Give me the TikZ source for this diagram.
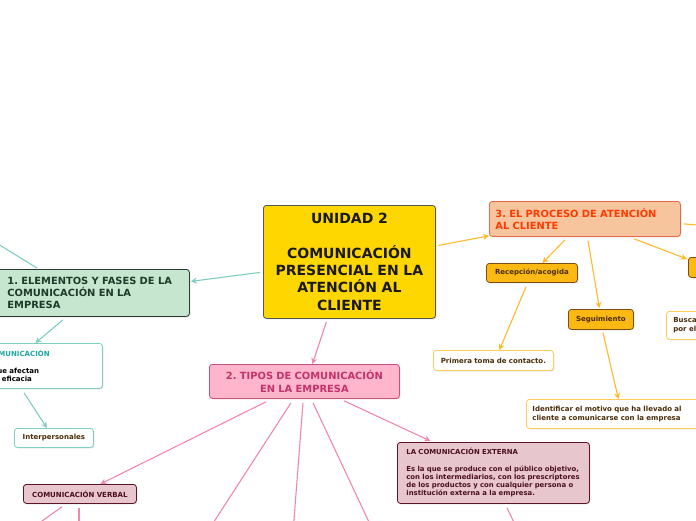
\documentclass[tikz,border=0pt]{standalone}
\usepackage{fontspec}
\setmainfont{DejaVu Sans}
\usetikzlibrary{arrows.meta,calc,shadows}
\definecolor{tealline}{HTML}{7ECEC4}
\definecolor{tealtxt}{HTML}{1FA89E}
\definecolor{centerfill}{HTML}{FFD700}
\definecolor{centerdraw}{HTML}{555555}
\definecolor{greenfill}{HTML}{C7E6CF}
\definecolor{greendraw}{HTML}{2A3A30}
\definecolor{greentxt}{HTML}{1E3B2A}
\definecolor{pinkline}{HTML}{F088A8}
\definecolor{pinkfill}{HTML}{FFB5CB}
\definecolor{pinkdraw}{HTML}{C8507A}
\definecolor{pinktxt}{HTML}{C2336B}
\definecolor{maroonfill}{HTML}{E8C6CE}
\definecolor{maroondraw}{HTML}{5A1628}
\definecolor{maroontxt}{HTML}{4A0F20}
\definecolor{orangeline}{HTML}{FFB929}
\definecolor{peachfill}{HTML}{F6C59E}
\definecolor{peachdraw}{HTML}{E8684A}
\definecolor{peachtxt}{HTML}{FF3A00}
\definecolor{amberfill}{HTML}{FDB913}
\definecolor{amberdraw}{HTML}{7A4E12}
\definecolor{ambertxt}{HTML}{4A2C08}
\definecolor{lightamber}{HTML}{FFCD55}
\frenchspacing
\begin{document}
\begin{tikzpicture}[x=1pt,y=-1pt,
  every node/.style={font=\bfseries},
  box/.style={draw, rounded corners=3pt, line width=0.8pt, anchor=north west, inner ysep=0pt,
    drop shadow={shadow xshift=1pt, shadow yshift=-1pt, opacity=0.25}},
  conn/.style={line width=1.1pt},
  arr/.style={conn, -{Stealth[length=6pt,width=6pt]}},
  smalltxt/.style={font=\bfseries\fontsize{7}{8.5}\selectfont},
  ambox/.style={box, fill=amberfill, draw=amberdraw, text=ambertxt, smalltxt, align=center},
  whamber/.style={box, fill=white, draw=lightamber, text=ambertxt, smalltxt},
  mabox/.style={box, fill=maroonfill, draw=maroondraw, text=maroontxt, smalltxt},
  whteal/.style={box, fill=white, draw=tealline, smalltxt},
  bigtxt/.style={font=\bfseries\fontsize{9.9}{12.2}\selectfont}
]
\useasboundingbox (0,0) rectangle (696,520);
\fill[white] (0,0) rectangle (696,520);

% central node
\node[box, fill=centerfill, draw=centerdraw, text=black!90, align=center,
  minimum width=172, minimum height=113, text width=166, inner xsep=3,
  font=\bfseries\fontsize{14}{17.3}\selectfont] (c) at (263,205)
  {UNIDAD 2\\[17.3pt]COMUNICACIÓN\\PRESENCIAL EN LA\\ATENCIÓN AL\\CLIENTE};

% branch 1 (teal)
\node[box, fill=greenfill, draw=greendraw, text=greentxt, align=left,
  minimum width=195, minimum height=47, text width=169, inner xsep=13, bigtxt] (n1) at (-6,269)
  {1. ELEMENTOS Y FASES DE LA\\COMUNICACIÓN EN LA\\EMPRESA};
\node[whteal, align=left, minimum width=120, minimum height=45, text width=100, inner xsep=10] (t1) at (-18,343)
  {\hspace*{-5pt}{\color{tealtxt}COMUNICACIÓN}\\[8.5pt]que afectan\\la eficacia};
\node[whteal, text=ambertxt, align=center, minimum width=79, minimum height=19, text width=75, inner xsep=2] (t2) at (14,428)
  {Interpersonales};
\coordinate (offl) at (-20,233);

\draw[arr, tealline] ($(c.west)+(-3,10.5)$) -- ($(n1.east)+(1,-11.5)$);
\draw[conn, tealline] ($(n1.north west)+(43,-1)$) -- (offl);
\draw[arr, tealline] ($(n1.south west)+(69,3)$) -- ($(t1.north)+(-7,0)$);
\draw[arr, tealline] ($(t1.south west)+(42,4)$) -- ($(t2.north)+(-7,0)$);

% branch 2 (pink)
\node[box, fill=pinkfill, draw=pinkdraw, text=pinktxt, align=center,
  minimum width=190, minimum height=34, text width=186, inner xsep=2, bigtxt] (n2) at (209,364)
  {2. TIPOS DE COMUNICACIÓN\\EN LA EMPRESA};
\node[mabox, align=center, minimum width=113, minimum height=19, text width=109, inner xsep=2] (v) at (23,484)
  {COMUNICACIÓN VERBAL};
\node[mabox, align=left, minimum width=192, minimum height=61, text width=174, inner xsep=9,
  font=\bfseries\fontsize{6.9}{8.2}\selectfont] (ext) at (397,442)
  {LA COMUNICACIÓN EXTERNA\\[8.2pt]Es la que se produce con el público objetivo,\\con los intermediarios, con los prescriptores\\de los productos y con cualquier persona o\\institución externa a la empresa.};
\coordinate (p1) at (208.6,530);
\coordinate (p2) at (293.2,530);
\coordinate (p3) at (372.7,530);
\coordinate (p4) at (29.4,530);
\coordinate (p5) at (79,530);
\coordinate (p6) at (517.6,530);

\draw[arr, pinkline] ($(c.south)+(-23,3)$) -- ($(n2.north)+(8,0)$);
\draw[arr, pinkline] ($(n2.south west)+(57,3)$) -- ($(v.north)+(20.5,0)$);
\draw[conn, pinkline] ($(n2.south west)+(82,4)$) -- (p1);
\draw[conn, pinkline] ($(n2.south west)+(94,4)$) -- (p2);
\draw[conn, pinkline] ($(n2.south west)+(104,4)$) -- (p3);
\draw[arr, pinkline] ($(n2.south west)+(135,2)$) -- ($(ext.north)+(-63,-1)$);
\draw[conn, pinkline] ($(v.south west)+(39,3)$) -- (p4);
\draw[conn, pinkline] ($(v.south west)+(56,4)$) -- (p5);
\draw[conn, pinkline] ($(ext.south west)+(110,4)$) -- (p6);

% branch 3 (orange)
\node[box, fill=peachfill, draw=peachdraw, text=peachtxt, align=left,
  minimum width=191, minimum height=35, text width=179, inner xsep=6, bigtxt] (n3) at (489,201)
  {3. EL PROCESO DE ATENCIÓN\\AL CLIENTE};
\node[ambox, minimum width=91, minimum height=19, text width=89, inner xsep=1] (rec) at (486,263) {Recepción/acogida};
\node[ambox, minimum width=65, minimum height=20, text width=63, inner xsep=1] (seg) at (568,309) {Seguimiento};
\node[ambox, minimum width=60, minimum height=20, text width=54, inner xsep=3] (r3) at (688,257) {};
\node[whamber, align=center, minimum width=120, minimum height=20, text width=116, inner xsep=2] (prim) at (433,350)
  {Primera toma de contacto.};
\node[whamber, align=left, minimum width=172, minimum height=29, text width=160, inner xsep=6] (idn) at (526,399)
  {Identificar el motivo que ha llevado al\\cliente a comunicarse con la empresa};
\node[whamber, align=left, minimum width=60, minimum height=28, text width=46, inner xsep=7] (bus) at (666,311)
  {Busca\\por el};
\coordinate (offr) at (710,226);

\draw[arr, orangeline] ($(c.east)+(3,-16.5)$) -- ($(n3.south west)+(0,-1)$);
\draw[conn, orangeline] ($(n3.east)+(3,5)$) -- (offr);
\draw[arr, orangeline] ($(n3.south west)+(76,3)$) -- ($(rec.north)+(10.5,0)$);
\draw[arr, orangeline] ($(n3.south west)+(99,4)$) -- ($(seg.north)+(-1.5,-1)$);
\draw[arr, orangeline] ($(n3.south west)+(145,2)$) -- ($(r3.north west)+(-1,2)$);
\draw[arr, orangeline] ($(rec.south west)+(40,4)$) -- ($(prim.north)+(6,0)$);
\draw[arr, orangeline] ($(seg.south west)+(35,3)$) -- ($(idn.north)+(6,0)$);
\end{tikzpicture}
\end{document}
